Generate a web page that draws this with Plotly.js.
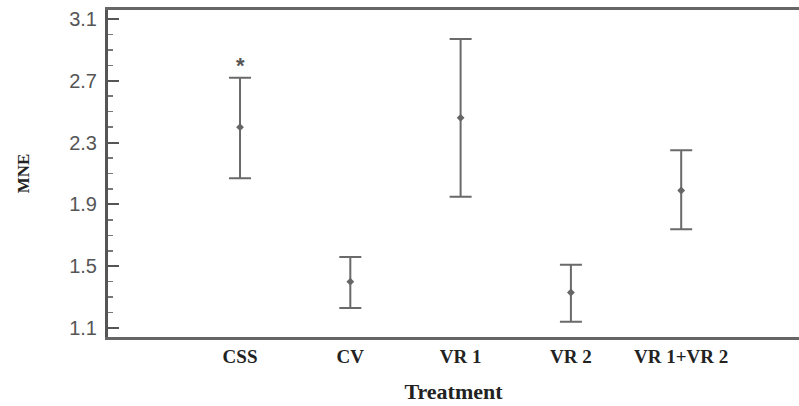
<!DOCTYPE html>
<html>
<head>
<meta charset="utf-8">
<script src="https://cdn.plot.ly/plotly-3.0.1.min.js"></script>
<style>html,body{margin:0;padding:0;background:#fff;}#chart{width:799px;height:406px;}</style>
</head>
<body>
<div id="chart"></div>
<script>
const categories = ["CSS", "CV", "VR 1", "VR 2", "VR 1+VR 2"];
const means = [2.40, 1.40, 2.46, 1.33, 1.99];
const upper = [2.72, 1.56, 2.97, 1.51, 2.25];
const lower = [2.07, 1.23, 1.95, 1.14, 1.74];
const yTickStart = 1.1;
const yTickStep = 0.4;
const yMinorStep = 0.1;
const significance = [{category: "CSS", label: "*", y: 2.80}];

const plus = means.map((m, i) => +(upper[i] - m).toFixed(3));
const minus = means.map((m, i) => +(m - lower[i]).toFixed(3));

const trace = {
  x: categories,
  y: means,
  type: "scatter",
  mode: "markers",
  marker: {color: "#666", size: 6, symbol: "diamond"},
  error_y: {type: "data", symmetric: false, array: plus, arrayminus: minus,
            color: "#6a6a6a", thickness: 2, width: 11},
  hoverinfo: "skip",
  showlegend: false
};

const yRange = [1.042, 3.158];

const layout = {
  width: 799, height: 406,
  margin: {l: 108, r: 0, t: 10, b: 69},
  paper_bgcolor: "#fff", plot_bgcolor: "#fff",
  showlegend: false,
  xaxis: {
    type: "category",
    range: [-1.197, 5.068],
    showgrid: false, zeroline: false,
    showline: true, mirror: true, linecolor: "#666", linewidth: 3,
    ticks: "",
    tickfont: {family: "Liberation Serif, Times New Roman, serif", size: 19, color: "#222", weight: "bold"},
    title: {text: "<b>Treatment</b>", standoff: 18,
            font: {family: "Liberation Serif, Times New Roman, serif", size: 22, color: "#222"}}
  },
  yaxis: {
    range: yRange,
    tickmode: "linear", tick0: yTickStart, dtick: yTickStep, tickformat: ".1f",
    showgrid: false, zeroline: false,
    showline: true, linecolor: "#555", linewidth: 3,
    ticks: "inside", ticklen: 11, tickwidth: 2, tickcolor: "#555",
    minor: {dtick: yMinorStep, tick0: yTickStart, ticks: "inside", ticklen: 5, tickwidth: 1.5, tickcolor: "#777", showgrid: false},
    tickfont: {family: "Liberation Sans, Arial, sans-serif", size: 20, color: "#555"},
    ticklabelstandoff: 4,
    title: {text: "<b>MNE</b>", standoff: 36,
            font: {family: "Liberation Serif, Times New Roman, serif", size: 17, color: "#222"}}
  },
  annotations: significance.map(s => ({
    x: s.category, y: s.y, xref: "x", yref: "y", text: "<b>" + s.label + "</b>", showarrow: false,
    font: {family: "Liberation Sans, Arial, sans-serif", size: 22, color: "#555"},
    yanchor: "middle"
  }))
};

Plotly.newPlot("chart", [trace], layout, {staticPlot: true, displayModeBar: false});
</script>
</body>
</html>
